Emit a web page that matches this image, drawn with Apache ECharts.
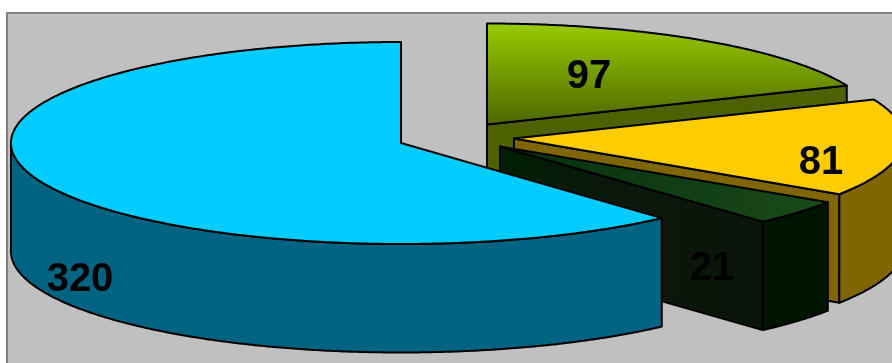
<!DOCTYPE html>
<html>
<head>
<meta charset="utf-8">
<style>html,body{margin:0;padding:0;background:#fff}#c{width:892px;height:363px}</style>
<script src="https://cdn.jsdelivr.net/npm/echarts@6/dist/echarts.min.js"></script>
</head>
<body>
<div id="c"></div>
<script>
// data (clockwise from 12 o'clock)
var sliceNames = ['A', 'B', 'C', 'D'];
var sliceValues = [97, 81, 21, 320];

// layout
var RY = 101, DEPTH = 108.5;
var radiusX = [390, 390, 393, 390];
var apexX = [487, 514, 500, 401];
var apexY = [124.5, 138.5, 146.5, 143];
var labelX = [589, 821, 712, 80];
var labelY = [77, 163, 269, 280];

// styles
var topFill = [
  {type:'linear',x:0,y:0,x2:0,y2:1,colorStops:[{offset:0,color:'#99cc00'},{offset:1,color:'#4d6600'}]},
  '#ffcc00',
  {type:'linear',x:0,y:0,x2:1,y2:0,colorStops:[{offset:0,color:'#06300e'},{offset:1,color:'#1a4a1a'}]},
  '#00ccff'
];
var faceFill = [
  '#4d6100',
  '#806600',
  {type:'linear',x:0,y:0,x2:1,y2:0,colorStops:[{offset:0,color:'#001f04'},{offset:0.4,color:'#0a180a'},{offset:1,color:'#0b150b'}]},
  '#006382'
];
var sideFill = ['#4d6100', '#806600', '#001400', '#006382'];

var total = sliceValues.reduce(function (a, b) { return a + b; }, 0);
var rad = Math.PI / 180;

function pt(i, deg, dz) {
  return [apexX[i] + radiusX[i] * Math.sin(deg * rad), apexY[i] - RY * Math.cos(deg * rad) + (dz || 0)];
}
function arc(i, from, to, dz) {
  var pts = [], n = Math.max(2, Math.ceil(Math.abs(to - from) * 2));
  for (var k = 0; k <= n; k++) pts.push(pt(i, from + (to - from) * k / n, dz));
  return pts;
}
function poly(points, fill) {
  return {type: 'polygon', shape: {points: points},
    style: {fill: fill, stroke: '#000', lineWidth: 2, lineJoin: 'round'}};
}
function face(i, deg, fill) {
  var c = [apexX[i], apexY[i]], p = pt(i, deg);
  return poly([c, p, [p[0], p[1] + DEPTH], [c[0], c[1] + DEPTH]], fill);
}

function renderSlice(params, api) {
  var i = params.dataIndex, v = api.value(1), start = 0;
  for (var j = 0; j < i; j++) start += sliceValues[j];
  var a0 = start / total * 360, a1 = a0 + v / total * 360;
  var kids = [];
  if (Math.sin(a0 * rad) < -1e-6) kids.push(face(i, a0, faceFill[i]));
  if (Math.sin(a1 * rad) > 1e-6) kids.push(face(i, a1, faceFill[i]));
  var s0 = Math.max(a0, 90), s1 = Math.min(a1, 270);
  if (s1 > s0) {
    kids.push(poly(arc(i, s0, s1, 0).concat(arc(i, s1, s0, DEPTH)), sideFill[i]));
  }
  kids.push(poly([[apexX[i], apexY[i]]].concat(arc(i, a0, a1, 0)), topFill[i]));
  kids.push({type: 'text', x: labelX[i], y: labelY[i], style: {
    text: String(v), fill: '#000', fontFamily: '"Liberation Sans", Arial, sans-serif',
    fontWeight: 'bold', fontSize: 40, align: 'center', verticalAlign: 'middle'}});
  return {type: 'group', children: kids};
}

var chart = echarts.init(document.getElementById('c'), null, {renderer: 'canvas'});
chart.setOption({
  animation: false,
  backgroundColor: '#ffffff',
  graphic: [{type: 'rect', z: 0, shape: {x: 7, y: 13, width: 900, height: 360},
    style: {fill: '#c0c0c0', stroke: '#808080', lineWidth: 2}}],
  series: [{
    type: 'custom',
    coordinateSystem: 'none',
    z: 2,
    silent: true,
    renderItem: renderSlice,
    data: sliceNames.map(function (n, i) { return {name: n, value: [i, sliceValues[i]]}; })
  }]
});
</script>
</body>
</html>
